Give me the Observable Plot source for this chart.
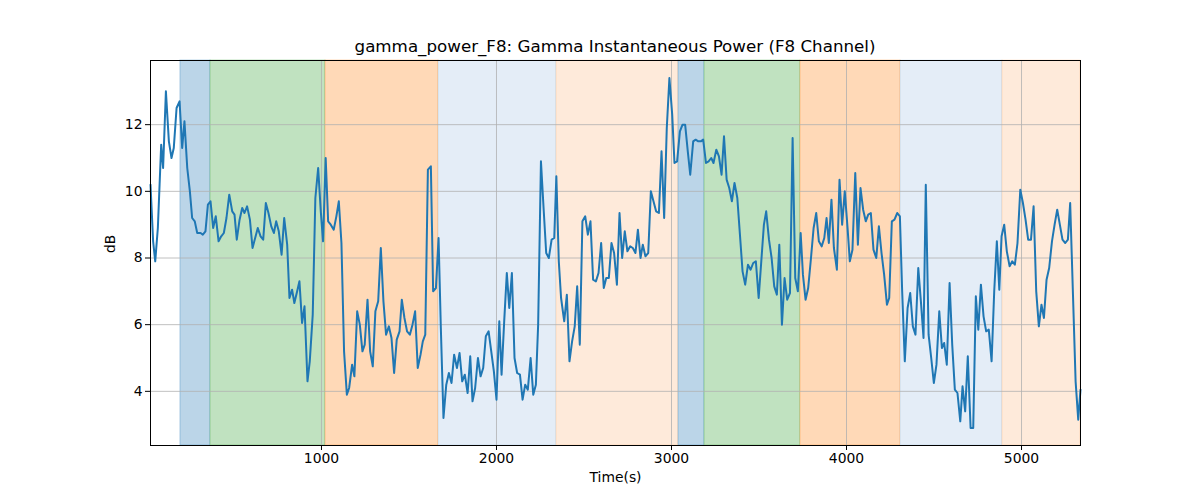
<!DOCTYPE html>
<html><head><meta charset="utf-8">
<script src="https://cdn.jsdelivr.net/npm/d3@7"></script>
<script src="https://cdn.jsdelivr.net/npm/@observablehq/plot@0.6"></script>
<style>
body{margin:0;background:#fff;font-family:"DejaVu Sans",sans-serif;}
#title{height:58px;width:1200px;box-sizing:border-box;padding-top:36px;padding-left:30px;text-align:center;font-size:16.7px;line-height:20px;color:#000;}
</style></head><body>
<div id="title">gamma_power_F8: Gamma Instantaneous Power (F8 Channel)</div>
<div id="chart"></div>
<script>
const times = [23,38,50,65,84,95,111,128,143,156,172,189,204,217,233,248,261,276,290,309,322,337,351,366,381,396,412,427,442,457,473,490,503,516,532,547,560,575,591,606,621,636,652,667,682,697,713,728,741,756,772,787,
804,817,832,845,861,874,889,903,920,933,950,965,981,996,1009,1024,1038,1053,1070,1085,1099,1114,1129,1145,1158,1175,1188,1204,1219,1234,1247,1263,1278,1293,1308,1324,1339,1354,1369,1385,1400,1415,1430,1446,1459,1474,1489,1505,1520,1535,1550,1566,
1579,1593,1608,1625,1638,1654,1669,1682,1697,1713,1728,1743,1758,1774,1789,1804,1819,1835,1850,1863,1878,1894,1909,1924,1939,1955,1970,1985,2000,2016,2029,2044,2059,2073,2088,2103,2118,2134,2149,2164,2179,2195,2210,2225,2238,2254,2269,2284,2299,2315,2330,
2342,2356,2369,2387,2402,2417,2432,2447,2461,2476,2491,2507,2522,2537,2552,2568,2583,2598,2613,2627,2642,2657,2672,2688,2703,2718,2733,2748,2764,2779,2794,2808,2823,2836,2851,2867,2882,2897,2912,2928,2943,2958,2973,2988,3004,3017,3032,3048,3063,3078,3093,3107,
3124,3138,3153,3168,3181,3197,3212,3227,3240,3256,3271,3286,3300,3315,3330,3345,3360,3376,3391,3406,3421,3437,3452,3467,3482,3498,3513,3528,3541,3557,3572,3587,3602,3616,3631,3646,3661,3677,3692,3707,3722,3738,3751,3766,3781,3797,3812,3827,3842,3858,3873,
3886,3899,3914,3928,3945,3960,3975,3990,4006,4019,4034,4050,4065,4080,4095,4110,4124,4139,4154,4170,4185,4200,4215,4231,4244,4259,4274,4290,4305,4318,4333,4349,4364,4379,4394,4410,4425,4440,4453,4469,4484,4499,4514,4530,4545,4558,4573,4589,4604,4619,4634,4650,
4663,4678,4693,4709,4724,4739,4753,4768,4783,4798,4813,4829,4844,4859,4873,4886,4901,4916,4932,4947,4962,4977,4993,5008,5023,5038,5054,5069,5084,5099,5114,5128,5143,5158,5174,5189,5204,5219,5234,5250,5265,5278,5294,5309,5324,5337];
const dB = [10.2,8.5,7.9,8.9,11.4,10.7,13.0,11.5,11.0,11.3,12.5,12.7,11.3,12.1,10.7,10.0,9.2,9.1,8.75,8.75,8.7,8.8,9.6,9.7,8.9,9.25,8.5,8.65,8.75,9.2,9.9,9.4,9.3,8.55,9.15,9.5,9.35,9.55,9.15,8.3,8.6,8.9,8.65,8.55,9.65,9.35,8.95,8.75,9.1,8.8,8.1,9.2,
8.4,6.8,7.05,6.65,7.0,7.3,6.05,6.55,4.3,4.9,6.3,9.8,10.7,9.4,8.5,11.0,9.1,9.0,8.85,9.25,9.7,8.45,5.2,3.9,4.1,4.8,4.45,6.4,6.0,5.2,5.4,6.75,5.2,4.75,6.4,6.7,8.3,6.7,5.7,5.95,5.6,4.55,5.55,5.8,6.75,6.2,5.8,5.7,6.0,6.4,4.7,5.1,
5.5,5.7,10.65,10.75,7.0,7.1,8.6,5.9,3.2,4.2,4.55,4.25,5.1,4.7,5.15,4.3,4.5,3.95,5.05,3.7,4.1,5.0,4.45,4.7,5.65,5.8,5.2,4.6,3.75,6.1,4.5,6.1,7.55,6.5,7.55,5.0,4.55,4.5,3.75,4.2,4.05,5.0,3.9,4.2,6.0,10.9,9.5,8.15,8.0,8.55,8.6,
10.45,7.9,6.8,6.1,6.9,4.9,5.5,5.95,7.15,5.4,9.1,9.25,8.7,9.1,7.35,7.3,7.55,8.45,7.1,7.4,7.4,8.45,8.15,7.2,9.35,8.0,8.8,8.2,8.35,8.3,8.15,8.85,8.0,8.4,8.05,8.15,10.0,9.7,9.4,9.35,11.2,9.2,11.9,13.4,12.3,10.85,10.9,11.8,12.0,12.0,11.2,10.5,
11.5,11.55,11.5,11.5,11.55,10.85,10.9,11.0,10.85,11.25,11.05,10.5,11.65,10.35,10.1,9.7,10.25,9.8,8.7,7.6,7.2,7.8,7.65,7.85,7.9,6.8,7.9,9.0,9.4,8.55,8.0,7.15,6.9,8.4,6.0,7.4,6.75,6.95,11.6,7.4,7.0,8.75,7.5,6.75,7.1,8.0,8.9,9.35,8.5,8.35,8.6,
9.2,8.45,9.75,8.3,7.65,10.35,9.0,10.0,8.9,7.9,8.25,10.55,8.4,10.1,9.45,9.1,9.3,9.35,8.25,8.0,8.95,8.15,7.5,6.6,6.8,9.1,9.15,9.35,9.25,7.0,4.9,6.5,6.95,5.95,5.7,7.7,6.7,5.6,10.2,5.7,5.0,4.25,4.8,6.4,5.3,5.45,4.8,7.25,5.4,4.05,3.95,3.1,
4.15,3.4,5.05,2.9,2.9,6.85,5.85,7.2,6.25,5.8,5.85,4.9,7.0,8.5,7.05,8.65,9.0,8.2,7.75,7.9,7.8,8.45,10.05,9.65,9.15,8.55,8.55,9.55,7.0,5.95,6.6,6.2,7.35,7.7,8.5,9.0,9.45,9.0,8.55,8.45,8.55,9.65,6.9,4.3,3.15,4.05];

const bandStart = [194,366,1023,1669,2343,3040,3189,3737,4309,4891];
const bandEnd   = [366,1023,1669,2343,3040,3189,3737,4309,4891,5337];
const bandState = ["A","B","C","D","E","A","B","C","D","E"];
const stateNames = ["A","B","C","D","E"];
const xTicks = [1000,2000,3000,4000,5000];
const yTicks = [4,6,8,10,12];

const edgeColor = {A:"rgba(31,119,180,0.3)", B:"rgba(44,160,44,0.3)", C:"rgba(255,127,14,0.3)", D:"rgba(31,119,180,0.12)", E:"rgba(255,127,14,0.15)"};

const rows = times.map((t,i)=>({t, v:dB[i]}));
const bands = bandStart.map((s,i)=>({s, e:bandEnd[i], k:bandState[i]}));

const chart = Plot.plot({
  width:1200, height:442,
  marginLeft:150, marginRight:120, marginTop:2, marginBottom:55,
  x:{domain:[23,5337]},
  y:{domain:[2.375,13.925]},
  color:{type:"ordinal", domain:stateNames, range:["#bbd5e8","#c0e2c0","#ffd9b7","#e4edf7","#feeada"]},
  style:{fontFamily:"DejaVu Sans, sans-serif", fontSize:"13.9px", color:"#000", background:"#fff", overflow:"visible"},
  marks:[
    Plot.rect(bands,{x1:"s", x2:"e", fill:"k", stroke:d=>edgeColor[d.k], strokeWidth:1}),
    Plot.gridX(xTicks,{stroke:"#b0b0b0", strokeOpacity:1, strokeWidth:0.8}),
    Plot.gridY(yTicks,{stroke:"#b0b0b0", strokeOpacity:1, strokeWidth:0.8}),
    Plot.line(rows,{x:"t", y:"v", stroke:"#1f77b4", strokeWidth:2}),
    Plot.frame({stroke:"#000", strokeWidth:1}),
    Plot.axisX(xTicks,{tickSize:5, tickPadding:3, label:null, tickFormat:d=>String(d)}),
    Plot.axisY(yTicks,{tickSize:5, tickPadding:3, label:null}),
    Plot.text(["Time(s)"],{frameAnchor:"bottom", text:d=>d, dy:36}),
    Plot.text(["dB"],{frameAnchor:"left", text:d=>d, rotate:-90, dx:-40})
  ]
});
document.getElementById("chart").appendChild(chart);
</script>
</body></html>
